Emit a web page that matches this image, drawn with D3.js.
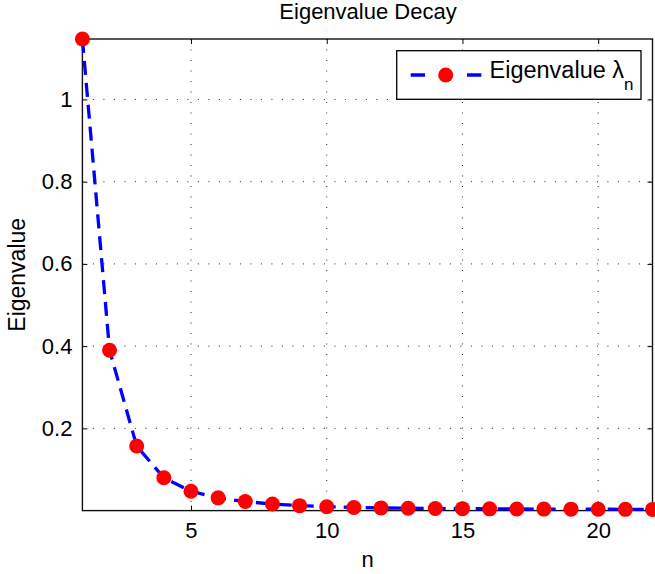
<!DOCTYPE html>
<html><head><meta charset="utf-8">
<script src="https://cdn.jsdelivr.net/npm/d3@7"></script>
<style>body{margin:0;background:#fff}text{font-family:"Liberation Sans",Arial,sans-serif}</style>
</head><body><svg id="c" width="655" height="574"></svg>
<script>
const nValues = [1,2,3,4,5,6,7,8,9,10,11,12,13,14,15,16,17,18,19,20,21,22];
const eigenvalues = [1.147,0.390,0.157,0.080,0.047,0.031,0.022,0.016,0.012,0.0095,0.0075,0.0065,0.0058,0.0052,0.0047,0.0043,0.0040,0.0037,0.0035,0.0033,0.0031,0.0029];
const xTicks = [5,10,15,20];
const yTicks = [0.2,0.4,0.6,0.8,1];
const xDomain = [1,22];
const yDomain = [0,1.147];

const svg = d3.select("#c");
const L=82.4, R=652.5, T=39, B=510.6;
const x = d3.scaleLinear().domain(xDomain).range([L,R]);
const y = d3.scaleLinear().domain(yDomain).range([B,T]);

// grid
const g = svg.append("g");
g.selectAll(".gx").data(xTicks).join("line")
 .attr("x1",d=>x(d)).attr("x2",d=>x(d)).attr("y1",T).attr("y2",B)
 .attr("stroke","#222").attr("stroke-width",1).attr("stroke-dasharray","1,9.5");
g.selectAll(".gy").data(yTicks).join("line")
 .attr("y1",d=>y(d)).attr("y2",d=>y(d)).attr("x1",L).attr("x2",R)
 .attr("stroke","#222").attr("stroke-width",1).attr("stroke-dasharray","1,9.5");

// axes (ticks inside)
const fs = "22px";
const axB = svg.append("g").attr("transform",`translate(0,${B})`)
 .call(d3.axisBottom(x).tickValues(xTicks).tickSize(-5).tickPadding(12).tickFormat(d3.format("d")));
const axT = svg.append("g").attr("transform",`translate(0,${T})`)
 .call(d3.axisTop(x).tickValues(xTicks).tickSize(-5).tickFormat(""));
const axL = svg.append("g").attr("transform",`translate(${L},0)`)
 .call(d3.axisLeft(y).tickValues(yTicks).tickSize(-5).tickPadding(10).tickFormat(d=>d===1?"1":d3.format(".1f")(d)));
const axR = svg.append("g").attr("transform",`translate(${R},0)`)
 .call(d3.axisRight(y).tickValues(yTicks).tickSize(-5).tickFormat(""));
[axB,axT,axL,axR].forEach(a=>{
  a.select(".domain").remove();
  a.selectAll("line").attr("stroke","#000");
  a.selectAll("text").attr("font-size",fs).attr("fill","#000").style("font-family","Liberation Sans, Arial, sans-serif");
});
svg.append("rect").attr("x",L).attr("y",T).attr("width",R-L).attr("height",B-T)
 .attr("fill","none").attr("stroke","#111").attr("stroke-width",1.4);

// line and points
const line = d3.line().x((d,i)=>x(nValues[i])).y(d=>y(d));
svg.append("path").datum(eigenvalues).attr("d",line)
 .attr("fill","none").attr("stroke","#0000ff").attr("stroke-width",3.3).attr("stroke-dasharray","14,8");
svg.selectAll(".pt").data(eigenvalues).join("circle")
 .attr("cx",(d,i)=>x(nValues[i])).attr("cy",d=>y(d)).attr("r",7.5).attr("fill","#ff0000");

// title and labels
svg.append("text").attr("x",368).attr("y",18.5).attr("text-anchor","middle").attr("font-size","22px").text("Eigenvalue Decay");
svg.append("text").attr("x",367.5).attr("y",567).attr("text-anchor","middle").attr("font-size","22px").text("n");
svg.append("text").attr("transform",`translate(25,${(T+B)/2}) rotate(-90)`).attr("text-anchor","middle").attr("font-size","23px").text("Eigenvalue");

// legend
const lg = svg.append("g");
lg.append("rect").attr("x",396.7).attr("y",50.7).attr("width",244.3).attr("height",48.6)
 .attr("fill","#fff").attr("stroke","#000").attr("stroke-width",1.3);
lg.append("line").attr("x1",410.7).attr("x2",481.7).attr("y1",75).attr("y2",75)
 .attr("stroke","#0000ff").attr("stroke-width",3.3).attr("stroke-dasharray","14.3,42");
lg.append("circle").attr("cx",445.7).attr("cy",75).attr("r",7.5).attr("fill","#ff0000");
const lt = lg.append("text").attr("x",489.5).attr("y",78.3).attr("font-size","23.5px");
lt.append("tspan").text("Eigenvalue λ");
lt.append("tspan").attr("dy",11.7).attr("font-size","17px").text("n");
</script></body></html>
